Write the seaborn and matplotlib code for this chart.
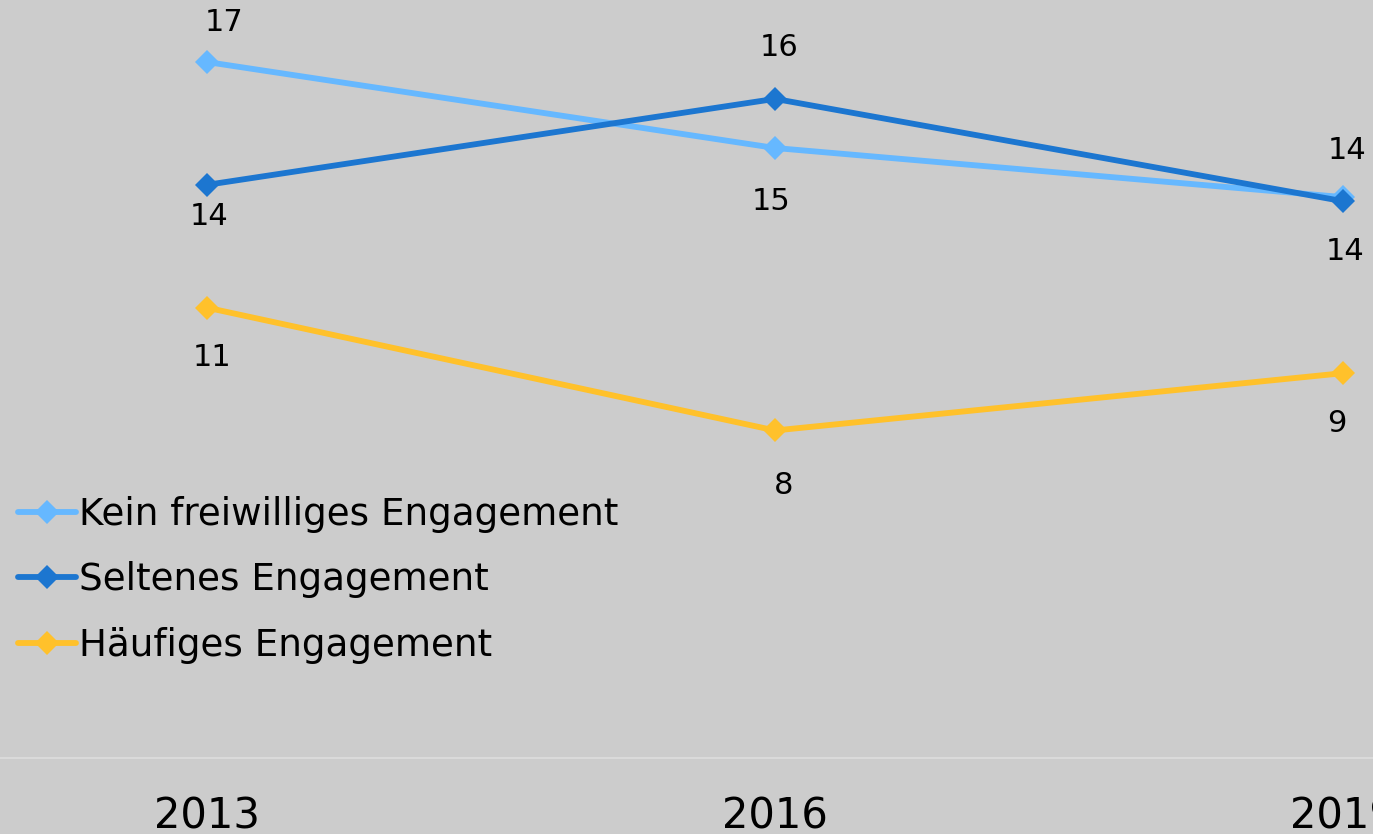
import matplotlib
matplotlib.use("Agg")
import matplotlib.pyplot as plt
import seaborn as sns
import pandas as pd

# Chart data
years = ["2013", "2016", "2019"]
series_names = ["Kein freiwilliges Engagement", "Seltenes Engagement", "Häufiges Engagement"]
kein = [17.0, 14.9, 13.7]
selten = [14.0, 16.1, 13.6]
haeufig = [11.0, 8.0, 9.4]

colors = ["#66b8ff", "#1c76d0", "#ffc12b"]

# label offsets in pixels (dx, dy) for each point, dy positive = up
offsets = {
    "Kein freiwilliges Engagement": [(17, 40), (-4, -54), (4, 47)],
    "Seltenes Engagement": [(2, -32), (4, 51), (2, -50)],
    "Häufiges Engagement": [(5, -50), (9, -55), (-6, -50)],
}

df = pd.DataFrame({
    "year": years * 3,
    "value": kein + selten + haeufig,
    "series": [series_names[0]] * 3 + [series_names[1]] * 3 + [series_names[2]] * 3,
})

sns.set_style("white")
plt.rcParams["font.family"] = ["DejaVu Sans"]
plt.rcParams["text.color"] = "black"

bg = "#cccccc"
fig = plt.figure(figsize=(13.73, 8.34), dpi=100, facecolor=bg)
ax = fig.add_axes([0, 76 / 834, 1, 758 / 834])
ax.set_facecolor(bg)

sns.lineplot(data=df, x="year", y="value", hue="series", hue_order=series_names,
             palette=colors, marker="D", markersize=12, markeredgewidth=0,
             linewidth=4.2, ax=ax, sort=False)

for name, vals in zip(series_names, [kein, selten, haeufig]):
    for i, v in enumerate(vals):
        dx, dy = offsets[name][i]
        ax.annotate(f"{round(v):d}", xy=(i, v), xytext=(dx, dy), textcoords="offset pixels",
                    ha="center", va="center", fontsize=22, color="black")

ax.set_xlim(-207 / 568, -207 / 568 + 1373 / 568)
ax.set_ylim(0, 758 / 40.94)
ax.set_xlabel("")
ax.set_ylabel("")
ax.set_yticks([])
ax.tick_params(axis="x", length=0, labelsize=30, pad=27, colors="black")
for s in ["top", "left", "right"]:
    ax.spines[s].set_visible(False)
ax.spines["bottom"].set_color("#dadada")
ax.spines["bottom"].set_linewidth(1.5)

handles, labels = ax.get_legend_handles_labels()
for h in handles:
    h.set_solid_capstyle("round")
leg = ax.legend(handles, labels, loc="center left", bbox_to_anchor=(18 / 1373, (758 - 580) / 758),
                frameon=False, fontsize=26.8, borderpad=0, borderaxespad=0,
                handlelength=1.55, handletextpad=0.1, labelspacing=0.76)
for t in leg.get_texts():
    t.set_color("black")

fig.savefig("out.png", dpi=100, facecolor=bg)
